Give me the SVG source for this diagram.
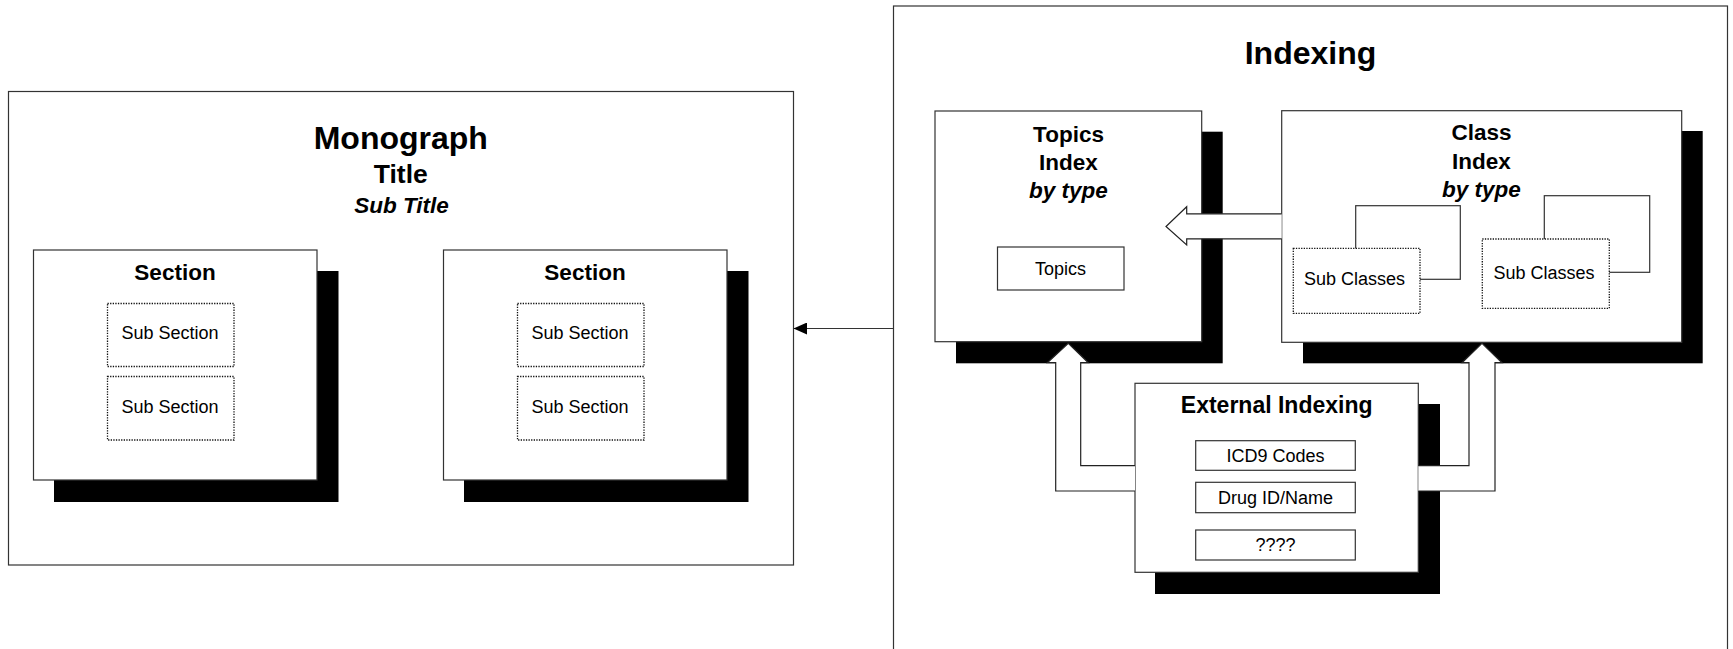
<svg xmlns="http://www.w3.org/2000/svg" width="1733" height="649" viewBox="0 0 1733 649">
  <style>
    text { font-family: "Liberation Sans", Arial, sans-serif; fill: #000; text-anchor: middle; }
    .frame { fill: #fff; stroke: #333; stroke-width: 1.2; }
    .box { fill: #fff; stroke: #333; stroke-width: 1.2; }
    .shadow { fill: #000; }
    .dotted { fill: #fff; stroke: #111; stroke-width: 1.3; stroke-dasharray: 1.3 1.3; }
    .back { fill: #fff; stroke: #333; stroke-width: 1.2; }
    .h1 { font-size: 32px; font-weight: bold; }
    .h2 { font-size: 26.5px; font-weight: bold; }
    .h3 { font-size: 22.5px; font-weight: bold; }
    .it { font-style: italic; }
    .lbl { font-size: 18px; }
    .hollow { fill: #fff; stroke: none; }
    .outline { fill: none; stroke: #222; stroke-width: 1.2; }
    .link { fill: none; stroke: #333; stroke-width: 1.2; }
  </style>
  <defs>
    <marker id="arrowhead" markerUnits="userSpaceOnUse" markerWidth="14" markerHeight="12" refX="13.5" refY="6" orient="auto">
      <path d="M0,0 L13.5,6 L0,12 z" fill="#000"/>
    </marker>
  </defs>

  <rect width="1733" height="649" fill="#fff"/>

  <!-- Monograph container -->
  <g id="monograph">
    <rect class="frame" x="8.5" y="91.5" width="785" height="473.5"/>
    <text class="h1" x="400.8" y="149.3">Monograph</text>
    <text class="h2" x="400.8" y="183.3">Title</text>
    <text class="h3 it" x="401.5" y="212.7">Sub Title</text>
  </g>

  <!-- Section 1 -->
  <g id="section-1">
    <rect class="shadow" x="54" y="271" width="284.5" height="231"/>
    <rect class="box" x="33.5" y="250" width="283.5" height="230"/>
    <text class="h3" x="175" y="280">Section</text>
    <rect class="dotted" x="107.5" y="303.5" width="126.5" height="63"/>
    <text class="lbl" x="170" y="339">Sub Section</text>
    <rect class="dotted" x="107.5" y="376.5" width="126.5" height="63.5"/>
    <text class="lbl" x="170" y="413.3">Sub Section</text>
  </g>

  <!-- Section 2 -->
  <g id="section-2">
    <rect class="shadow" x="464" y="271" width="284.5" height="231"/>
    <rect class="box" x="443.5" y="250" width="283.5" height="230"/>
    <text class="h3" x="585" y="280">Section</text>
    <rect class="dotted" x="517.5" y="303.5" width="126.5" height="63"/>
    <text class="lbl" x="580" y="339">Sub Section</text>
    <rect class="dotted" x="517.5" y="376.5" width="126.5" height="63.5"/>
    <text class="lbl" x="580" y="413.3">Sub Section</text>
  </g>

  <!-- Indexing container (runs past the lower edge) -->
  <g id="indexing">
    <rect class="frame" x="893.5" y="6" width="834" height="700"/>
    <text class="h1" x="1310.5" y="64">Indexing</text>
  </g>

  <!-- Topics index -->
  <g id="topics-index">
    <rect class="shadow" x="956" y="131.7" width="266.7" height="231.6"/>
    <rect class="box" x="935" y="111" width="266.7" height="230.7"/>
    <text class="h3" x="1068.5" y="141.5">Topics</text>
    <text class="h3" x="1068.5" y="169.8">Index</text>
    <text class="h3 it" x="1068.5" y="197.5">by type</text>
    <rect class="box" x="997.5" y="247" width="126.5" height="43"/>
    <text class="lbl" x="1060.5" y="275">Topics</text>
  </g>

  <!-- Class index -->
  <g id="class-index">
    <rect class="shadow" x="1303" y="131" width="399.7" height="232.3"/>
    <rect class="box" x="1281.7" y="110.7" width="400" height="231.6"/>
    <text class="h3" x="1481.5" y="140">Class</text>
    <text class="h3" x="1481.5" y="169.3">Index</text>
    <text class="h3 it" x="1481.5" y="197.3">by type</text>
    <rect class="back" x="1355.7" y="205.7" width="104.6" height="73.6"/>
    <rect class="dotted" x="1293.3" y="248.3" width="126.7" height="65"/>
    <text class="lbl" x="1354.5" y="285">Sub Classes</text>
    <rect class="back" x="1544.3" y="195.7" width="105.4" height="76.6"/>
    <rect class="dotted" x="1482.3" y="239" width="127" height="69.3"/>
    <text class="lbl" x="1544" y="279">Sub Classes</text>
  </g>

  <!-- External indexing -->
  <g id="external-indexing">
    <rect class="shadow" x="1155" y="404" width="285" height="190"/>
    <rect class="box" x="1135" y="383.3" width="283.3" height="189"/>
    <text class="h3" x="1276.7" y="413.3" style="font-size:23px">External Indexing</text>
    <rect class="box" x="1195.7" y="440.7" width="159.6" height="29.6"/>
    <text class="lbl" x="1275.5" y="461.5">ICD9 Codes</text>
    <rect class="box" x="1195.7" y="482.3" width="159.6" height="30.4"/>
    <text class="lbl" x="1275.5" y="503.5">Drug ID/Name</text>
    <rect class="box" x="1195.7" y="530" width="159.6" height="30"/>
    <text class="lbl" x="1275.5" y="551">????</text>
  </g>

  <!-- Connectors -->
  <g id="connectors">
    <!-- indexing feeds the monograph -->
    <line class="link" x1="893.5" y1="328.5" x2="793.5" y2="328.5" marker-end="url(#arrowhead)"/>

    <!-- class index to topics index (open block arrow) -->
    <polygon class="hollow" points="1281.7,213.8 1186.7,213.8 1186.7,206.7 1166,226.5 1186.7,245 1186.7,238.8 1281.7,238.8"/>
    <polyline class="outline" points="1281.7,213.8 1186.7,213.8 1186.7,206.7 1166,226.5 1186.7,245 1186.7,238.8 1281.7,238.8"/>

    <!-- external indexing to topics index -->
    <polygon class="hollow" points="1135,491 1055.7,491 1055.7,362.7 1047.3,362.7 1068.3,343.3 1088.3,362.7 1080.7,362.7 1080.7,465.7 1135,465.7"/>
    <polyline class="outline" points="1135,491 1055.7,491 1055.7,362.7 1047.3,362.7 1068.3,343.3 1088.3,362.7 1080.7,362.7 1080.7,465.7 1135,465.7"/>

    <!-- external indexing to class index -->
    <polygon class="hollow" points="1418.3,465.7 1469,465.7 1469,362.7 1462,362.7 1482,343.3 1502,362.7 1495,362.7 1495,491 1418.3,491"/>
    <polyline class="outline" points="1418.3,465.7 1469,465.7 1469,362.7 1462,362.7 1482,343.3 1502,362.7 1495,362.7 1495,491 1418.3,491"/>
  </g>
</svg>
